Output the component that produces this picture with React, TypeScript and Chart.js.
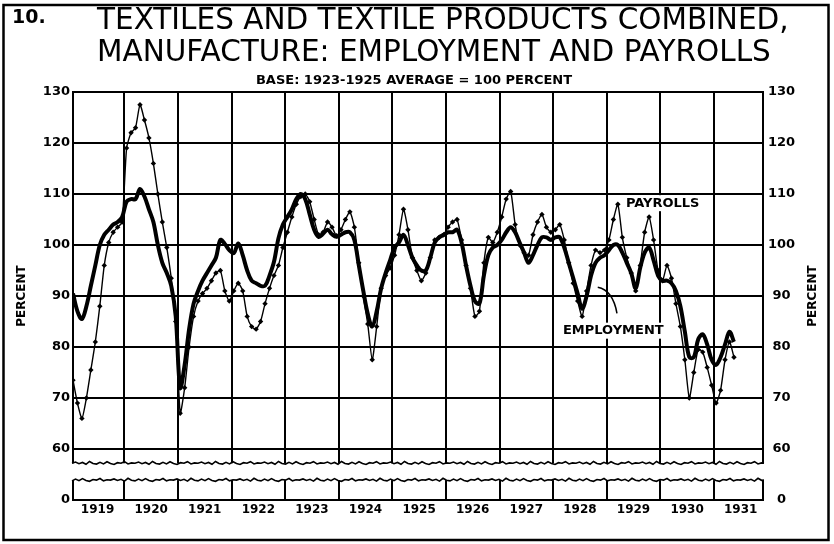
import React, { useEffect, useRef } from "react";
import { Chart, registerables } from "chart.js";

Chart.register(...registerables);

const FONT = '"DejaVu Sans", sans-serif';

const CHART_NUMBER = "10.";
const TITLE_LINES = ["TEXTILES AND TEXTILE PRODUCTS COMBINED,", "MANUFACTURE: EMPLOYMENT AND PAYROLLS"];
const SUBTITLE = "BASE: 1923-1925 AVERAGE = 100 PERCENT";
const AXIS_TITLE = "PERCENT";

const YEARS = ["1919", "1920", "1921", "1922", "1923", "1924", "1925", "1926", "1927", "1928", "1929", "1930", "1931"];
const Y_TICK_VALUES = [50, 60, 70, 80, 90, 100, 110, 120, 130];
const Y_TICK_LABELS = ["0", "60", "70", "80", "90", "100", "110", "120", "130"];

// Monthly index values, January 1919 to May 1931
const EMPLOYMENT = [
  90.5, 87, 85.5, 88, 92, 96, 100, 102, 103, 104, 104.5, 105.5,
  108.5, 109, 109, 111, 109.5, 107, 104.5, 100, 96.5, 94.5, 92, 86,
  72, 76.5, 83.5, 88.5, 91, 93, 94.5, 96, 97.5, 101, 100.2, 99,
  98.4, 100.3, 98, 95, 93, 92.5, 92, 92, 94, 96.7, 101.3, 104,
  105.5, 107, 109, 110, 109, 106, 103, 101.6, 102.2, 103, 102.1, 101.6,
  102, 102.5, 102.5, 101, 96, 91, 86.5, 84, 87, 91.5, 94.5, 97,
  99.5, 100.5, 102, 100, 97.5, 96, 95, 95, 97.5, 100.5, 101.5, 102,
  102.5, 102.5, 103, 100.5, 96, 92, 89, 88.5, 94, 98, 99.5, 100,
  101, 102.5, 103.5, 102.5, 100.5, 98.5, 96.5, 98, 100, 101.5, 101.5, 101,
  101.5, 101.5, 99.5, 96.5, 93.5, 90.5, 87.5, 90, 94, 96.5, 97.5, 98,
  99, 100, 100, 98.5, 96.5, 94.5, 91.5, 95.5, 98.5, 99.5, 97, 94,
  93, 93, 92.5, 91, 88, 83, 78, 78, 81.5, 82.5, 80.5, 77.5,
  76.5, 78, 80.5, 83, 81,
];

const PAYROLLS = [
  73.5, 69, 66, 70, 75.5, 81, 88, 96, 100.5, 102.5, 103.5, 104.5,
  119, 122, 123, 127.5, 124.5, 121, 116, 110, 104.5, 99.5, 93.5, 85,
  67, 72, 80, 86, 89, 90.5, 91.5, 93, 94.5, 95, 91, 89,
  91, 92.5, 91, 86, 84, 83.5, 85, 88.5, 91.5, 94, 96, 99.5,
  102.5, 105.5, 108, 109.5, 110, 108.5, 105, 102, 102.5, 104.5, 103.5, 101.8,
  103, 105, 106.5, 103.5, 96.5, 90, 84.5, 77.5, 84, 91.5, 94, 95.5,
  98, 102, 107, 103, 97.5, 95, 93, 94.5, 97.5, 101, 101.5, 102,
  103.5, 104.5, 105, 101, 96, 91.5, 86, 87, 96.5, 101.5, 100.5, 102.5,
  105.5, 109, 110.5, 104, 100, 98.5, 98, 102, 104.5, 106, 103.5, 102.5,
  103, 104, 101, 96.5, 92.5, 89, 86, 91, 96, 99, 98.5, 99,
  101, 105, 108, 101.5, 97.5, 94.5, 91, 96, 102.5, 105.5, 101, 95,
  93, 96, 93.5, 88.5, 84, 77.5, 70, 75, 79.5, 79, 76, 72.5,
  69, 71.5, 77.5, 81, 78,
];

const X_MIN = 0;
const X_MAX = 154.5;
const BREAK_HIGH = 57.2;
const BREAK_LOW = 53.9;
const WAVE = [0, -1.2, 0.4, -0.8, 1.0, -1.8, 0.2, 0.8, -1.0, 0.6, -1.5, 0.3, 1.2, -0.6, 0, -1.6, 0.7, -0.4];

// annotation anchors in data units (month index, percent)
const PAYROLLS_LABEL_AT = [123.8, 108.2];
const EMPLOYMENT_LABEL_AT = [109.7, 83.2];
const EMPLOYMENT_LEADER = [[117.5, 91.7], [120.9, 91.1], [121.8, 86.6]];

function drawWave(ctx: CanvasRenderingContext2D, x0: number, x1: number, y0: number, shift: number) {
  ctx.beginPath();
  let i = 0;
  for (let xx = x0; xx <= x1; xx += 3.5) {
    const dy = WAVE[(i + shift) % WAVE.length];
    if (i === 0) ctx.moveTo(xx, y0 + dy);
    else ctx.lineTo(xx, y0 + dy);
    i++;
  }
  ctx.lineTo(x1, y0);
  ctx.stroke();
}

function labelWithBg(ctx: CanvasRenderingContext2D, text: string, x: number, y: number) {
  ctx.font = `bold 13px ${FONT}`;
  const w = ctx.measureText(text).width;
  ctx.fillStyle = "#fff";
  ctx.fillRect(x - 2, y - 8, w + 4, 16);
  ctx.fillStyle = "#000";
  ctx.textAlign = "left";
  ctx.textBaseline = "middle";
  ctx.fillText(text, x, y);
}

const decorPlugin = {
  id: "decor",
  beforeDatasetsDraw(chart: any) {
    const { ctx, chartArea: ca, scales } = chart;
    const x = scales.x;
    ctx.save();
    ctx.strokeStyle = "#000";
    ctx.lineWidth = 2;
    YEARS.forEach((_, i) => {
      if (i === 0) return;
      const px = Math.round(x.getPixelForValue(i * 12 - 0.5));
      ctx.beginPath();
      ctx.moveTo(px, ca.top);
      ctx.lineTo(px, ca.bottom);
      ctx.stroke();
    });
    ctx.restore();
  },
  afterDraw(chart: any) {
    const { ctx, chartArea: ca, scales } = chart;
    const x = scales.x;
    const y = scales.y;
    ctx.save();

    // axis break
    const yHi = y.getPixelForValue(BREAK_HIGH);
    const yLo = y.getPixelForValue(BREAK_LOW);
    ctx.fillStyle = "#fff";
    ctx.fillRect(ca.left - 3, yHi, ca.right - ca.left + 6, yLo - yHi);
    ctx.strokeStyle = "#000";
    ctx.lineWidth = 1.6;
    drawWave(ctx, ca.left - 1, ca.right + 1, yHi, 0);
    drawWave(ctx, ca.left - 1, ca.right + 1, yLo, 7);

    // outer frame
    ctx.lineWidth = 2.5;
    ctx.strokeRect(3.5, 5, 825, 535);

    // titles
    ctx.fillStyle = "#000";
    ctx.textBaseline = "middle";
    ctx.textAlign = "left";
    ctx.font = `bold 19px ${FONT}`;
    ctx.fillText(CHART_NUMBER, 12, 18);
    ctx.font = `29.5px ${FONT}`;
    ctx.fillText(TITLE_LINES[0], 97, 21);
    ctx.fillText(TITLE_LINES[1], 97, 53);
    ctx.font = `bold 13px ${FONT}`;
    ctx.textAlign = "center";
    ctx.fillText(SUBTITLE, 414, 81);

    // axis titles (both read bottom to top)
    ctx.font = `bold 12px ${FONT}`;
    const midY = (ca.top + ca.bottom) / 2;
    [22, 813].forEach((cx) => {
      ctx.save();
      ctx.translate(cx, midY);
      ctx.rotate(-Math.PI / 2);
      ctx.textAlign = "center";
      ctx.textBaseline = "middle";
      ctx.fillText(AXIS_TITLE, 0, 0);
      ctx.restore();
    });

    // series labels
    labelWithBg(ctx, "PAYROLLS", x.getPixelForValue(PAYROLLS_LABEL_AT[0]), y.getPixelForValue(PAYROLLS_LABEL_AT[1]));
    ctx.strokeStyle = "#000";
    ctx.lineWidth = 1.5;
    ctx.beginPath();
    const p = EMPLOYMENT_LEADER.map(([m, v]) => [x.getPixelForValue(m), y.getPixelForValue(v)]);
    ctx.moveTo(p[0][0], p[0][1]);
    ctx.quadraticCurveTo(p[1][0], p[1][1], p[2][0], p[2][1]);
    ctx.stroke();
    labelWithBg(ctx, "EMPLOYMENT", x.getPixelForValue(EMPLOYMENT_LABEL_AT[0]), y.getPixelForValue(EMPLOYMENT_LABEL_AT[1]));

    ctx.restore();
  },
};

const yTickLabel = (v: number) => {
  const i = Y_TICK_VALUES.indexOf(v);
  return i >= 0 ? Y_TICK_LABELS[i] : "";
};

export default function App() {
  const ref = useRef<HTMLCanvasElement | null>(null);

  useEffect(() => {
    document.body.style.margin = "0";
    const canvas = ref.current;
    if (!canvas) return;
    const tickFont = { family: FONT, size: 13, weight: "bold" as const };
    const chart = new Chart(canvas, {
      type: "line",
      data: {
        datasets: [
          {
            label: "PAYROLLS",
            data: PAYROLLS.map((v, i) => ({ x: i, y: v })),
            borderColor: "#000",
            borderWidth: 1.4,
            pointStyle: "rectRot",
            pointRadius: 2.7,
            pointBackgroundColor: "#000",
            pointBorderWidth: 0,
            tension: 0.2,
          },
          {
            label: "EMPLOYMENT",
            data: EMPLOYMENT.map((v, i) => ({ x: i, y: v })),
            borderColor: "#000",
            borderWidth: 4,
            pointRadius: 0,
            tension: 0.35,
          },
        ],
      },
      options: {
        responsive: false,
        animation: false,
        devicePixelRatio: 1,
        layout: { padding: { top: 92, left: 0, right: 0, bottom: 0 } },
        plugins: { legend: { display: false }, tooltip: { enabled: false }, title: { display: false } },
        scales: {
          x: {
            type: "linear",
            min: X_MIN,
            max: X_MAX,
            grid: { display: false, drawTicks: false },
            border: { display: true, color: "#000", width: 2 },
            afterBuildTicks: (s: any) => {
              s.ticks = YEARS.map((_, i) => ({ value: i * 12 + 5.5 }));
            },
            afterFit: (s: any) => {
              s.height = 44;
            },
            ticks: {
              autoSkip: false,
              maxRotation: 0,
              padding: 3,
              color: "#000",
              font: { family: FONT, size: 12, weight: "bold" },
              callback: (_v: any, idx: number) => YEARS[idx],
            },
          },
          y: {
            type: "linear",
            position: "left",
            min: 50,
            max: 130,
            afterBuildTicks: (s: any) => {
              s.ticks = Y_TICK_VALUES.map((v) => ({ value: v }));
            },
            afterFit: (s: any) => {
              s.width = 73;
            },
            grid: { color: "#000", lineWidth: 2, drawTicks: false },
            border: { color: "#000", width: 2 },
            ticks: { padding: 3, color: "#000", font: tickFont, callback: (v: any) => yTickLabel(Number(v)) },
          },
          y2: {
            type: "linear",
            position: "right",
            min: 50,
            max: 130,
            afterBuildTicks: (s: any) => {
              s.ticks = Y_TICK_VALUES.map((v) => ({ value: v }));
            },
            afterFit: (s: any) => {
              s.width = 71;
            },
            grid: { display: false, drawTicks: false },
            border: { color: "#000", width: 2 },
            ticks: { padding: 5, crossAlign: "center", color: "#000", font: tickFont, callback: (v: any) => yTickLabel(Number(v)) },
          },
        },
      },
      plugins: [decorPlugin],
    } as any);
    return () => chart.destroy();
  }, []);

  return (
    <div style={{ width: 834, height: 544, background: "#fff" }}>
      <canvas ref={ref} width={834} height={544} style={{ display: "block" }} />
    </div>
  );
}
